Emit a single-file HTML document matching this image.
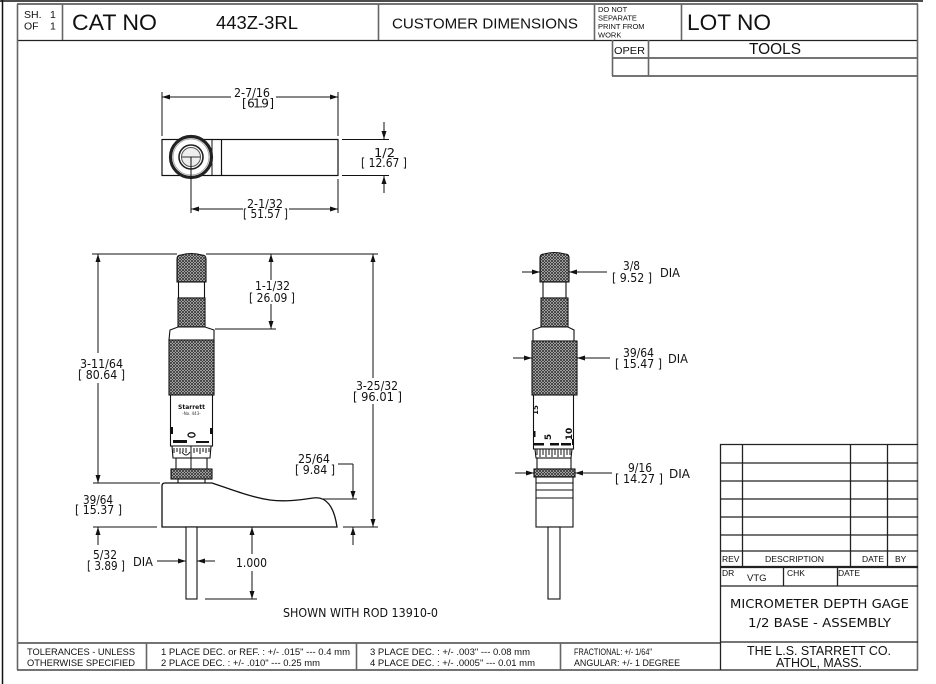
<!DOCTYPE html>
<html><head><meta charset="utf-8"><style>
html,body{margin:0;padding:0;background:#fff;}
svg{display:block;}
.h{font-family:"Liberation Sans",Arial,sans-serif;fill:#111;}
.d{font-family:"DejaVu Sans",Verdana,sans-serif;fill:#111;font-size:12px;}
</style></head><body>
<svg width="936" height="684" viewBox="0 0 936 684" xmlns="http://www.w3.org/2000/svg">
<defs>
<pattern id="k" width="3" height="3" patternUnits="userSpaceOnUse">
<rect width="3" height="3" fill="#e0e0e0"/>
<path d="M0,0 L3,3 M3,0 L0,3" stroke="#333" stroke-width="0.9"/>
</pattern>
</defs>

<!-- outer frame -->
<g fill="none" stroke="#111" stroke-width="1.5">
<line x1="0" y1="1" x2="923" y2="1"/>
<line x1="2.5" y1="0" x2="2.5" y2="684"/>
</g>

<!-- header -->
<g stroke="#222" stroke-width="1.3" fill="none">
<line x1="17" y1="4" x2="918" y2="4"/>
<line x1="17" y1="40.5" x2="918" y2="40.5"/>
<line x1="612" y1="58" x2="918" y2="58"/>
<line x1="612" y1="76" x2="918" y2="76"/>
<line x1="17" y1="643" x2="720" y2="643"/>
<line x1="17" y1="670" x2="918" y2="670"/>
</g>
<g stroke="#666" stroke-width="1.6" fill="none">
<line x1="17.5" y1="4" x2="17.5" y2="670"/>
<line x1="917.5" y1="4" x2="917.5" y2="670"/>
<line x1="62.5" y1="4" x2="62.5" y2="40"/>
<line x1="378.5" y1="4" x2="378.5" y2="40"/>
<line x1="594.5" y1="4" x2="594.5" y2="40"/>
<line x1="681.5" y1="4" x2="681.5" y2="40"/>
<line x1="612.5" y1="40" x2="612.5" y2="76"/>
<line x1="648.5" y1="40" x2="648.5" y2="76"/>
<line x1="146.5" y1="643" x2="146.5" y2="670"/>
<line x1="356.5" y1="643" x2="356.5" y2="670"/>
<line x1="560.5" y1="643" x2="560.5" y2="670"/>
</g>

<text class="h" x="24" y="18" font-size="10.5">SH.</text>
<text class="h" x="50" y="18" font-size="10.5">1</text>
<text class="h" x="24" y="29.5" font-size="10.5">OF</text>
<text class="h" x="50" y="29.5" font-size="10.5">1</text>
<text class="h" x="72" y="30" font-size="22" textLength="85" lengthAdjust="spacingAndGlyphs">CAT NO</text>
<text class="h" x="216" y="29" font-size="18.5" textLength="82" lengthAdjust="spacingAndGlyphs">443Z-3RL</text>
<text class="h" x="392" y="28.5" font-size="15" textLength="186" lengthAdjust="spacingAndGlyphs">CUSTOMER DIMENSIONS</text>
<text class="h" x="598" y="12" font-size="7.5">DO NOT</text>
<text class="h" x="598" y="20.5" font-size="7.5">SEPARATE</text>
<text class="h" x="598" y="29" font-size="7.5">PRINT FROM</text>
<text class="h" x="598" y="37.5" font-size="7.5">WORK</text>
<text class="h" x="687" y="30" font-size="22" textLength="84" lengthAdjust="spacingAndGlyphs">LOT NO</text>
<text class="h" x="614" y="54" font-size="10" textLength="31" lengthAdjust="spacingAndGlyphs">OPER</text>
<text class="h" x="749" y="54" font-size="15.5" textLength="52" lengthAdjust="spacingAndGlyphs">TOOLS</text>

<!-- tolerances -->
<g class="h" font-size="9.6">
<text x="27" y="655" textLength="108" lengthAdjust="spacingAndGlyphs">TOLERANCES - UNLESS</text>
<text x="27" y="666" textLength="108" lengthAdjust="spacingAndGlyphs">OTHERWISE SPECIFIED</text>
<text x="161" y="655" textLength="189" lengthAdjust="spacingAndGlyphs">1 PLACE DEC. or REF. :  +/- .015" --- 0.4 mm</text>
<text x="161" y="666" textLength="159" lengthAdjust="spacingAndGlyphs">2 PLACE DEC. :  +/- .010" --- 0.25 mm</text>
<text x="370" y="655" textLength="160" lengthAdjust="spacingAndGlyphs">3 PLACE DEC. :  +/- .003" --- 0.08 mm</text>
<text x="370" y="666" textLength="165" lengthAdjust="spacingAndGlyphs">4 PLACE DEC. :  +/- .0005" --- 0.01 mm</text>
<text x="574" y="655" textLength="78" lengthAdjust="spacingAndGlyphs">FRACTIONAL: +/- 1/64"</text>
<text x="574" y="666" textLength="106" lengthAdjust="spacingAndGlyphs">ANGULAR:  +/- 1 DEGREE</text>
</g>

<!-- title block -->
<g stroke="#222" stroke-width="1.3" fill="none">
<line x1="720.5" y1="444" x2="720.5" y2="670"/>
<line x1="720" y1="444.5" x2="918" y2="444.5"/>
<line x1="720" y1="463" x2="918" y2="463"/>
<line x1="720" y1="481" x2="918" y2="481"/>
<line x1="720" y1="499" x2="918" y2="499"/>
<line x1="720" y1="517" x2="918" y2="517"/>
<line x1="720" y1="535" x2="918" y2="535"/>
<line x1="720" y1="551" x2="918" y2="551"/>
<line x1="720" y1="567" x2="918" y2="567" stroke-width="2.2"/>
<line x1="720" y1="586" x2="918" y2="586"/>
<line x1="720" y1="642" x2="918" y2="642"/>
<line x1="742.5" y1="444" x2="742.5" y2="567"/>
<line x1="850.5" y1="444" x2="850.5" y2="567"/>
<line x1="887.5" y1="444" x2="887.5" y2="567"/>
<line x1="783.5" y1="567" x2="783.5" y2="586"/>
<line x1="837.5" y1="567" x2="837.5" y2="586"/>
</g>
<g class="h" font-size="8.5">
<text x="722" y="562">REV</text>
<text x="765" y="562" textLength="59" lengthAdjust="spacingAndGlyphs">DESCRIPTION</text>
<text x="862" y="562">DATE</text>
<text x="895" y="562">BY</text>
<text x="722" y="576">DR</text>
<text x="747" y="581" font-size="9.5">VTG</text>
<text x="787" y="576">CHK</text>
<text x="838" y="576">DATE</text>
</g>
<text class="d" x="730" y="608" font-size="13.5" textLength="179" lengthAdjust="spacingAndGlyphs">MICROMETER DEPTH GAGE</text>
<text class="d" x="748" y="627" font-size="13.5" textLength="143" lengthAdjust="spacingAndGlyphs">1/2 BASE - ASSEMBLY</text>
<text class="h" x="747" y="655" font-size="13" textLength="144" lengthAdjust="spacingAndGlyphs">THE L.S. STARRETT CO.</text>
<text class="h" x="776" y="667" font-size="13" textLength="86" lengthAdjust="spacingAndGlyphs">ATHOL, MASS.</text>

<!-- ===== TOP VIEW ===== -->
<g stroke="#111" stroke-width="1" fill="none">
<line x1="162" y1="92" x2="162" y2="136"/>
<line x1="338" y1="92" x2="338" y2="136"/>
<line x1="338" y1="179" x2="338" y2="213"/>
<line x1="162" y1="97" x2="231" y2="97"/>
<line x1="276" y1="97" x2="338" y2="97"/>
<line x1="191" y1="209" x2="243" y2="209"/>
<line x1="289" y1="209" x2="338" y2="209"/>
<line x1="342" y1="139.5" x2="389" y2="139.5"/>
<line x1="342" y1="175.5" x2="389" y2="175.5"/>
<line x1="384" y1="122" x2="384" y2="139"/>
<line x1="384" y1="176" x2="384" y2="193"/>
</g>
<rect x="162" y="139.5" width="176" height="36" fill="#fff" stroke="#111" stroke-width="1.2"/>
<line x1="212" y1="139.5" x2="212" y2="175.5" stroke="#111" stroke-width="1"/>
<line x1="221.5" y1="139.5" x2="221.5" y2="175.5" stroke="#111" stroke-width="1.2"/>
<circle cx="191" cy="157" r="20.5" fill="#fff" stroke="#222" stroke-width="3.2"/>
<circle cx="191" cy="157" r="18" fill="none" stroke="#999" stroke-width="0.8"/>
<circle cx="191" cy="157" r="12" fill="#fff" stroke="#222" stroke-width="1.6"/>
<circle cx="191" cy="157" r="9.5" fill="#eee" stroke="#555" stroke-width="1"/>
<line x1="182" y1="157" x2="200" y2="157" stroke="#333" stroke-width="1"/>
<line x1="191" y1="157" x2="191" y2="213" stroke="#111" stroke-width="1"/>
<g fill="#111">
<polygon points="162,97 170,94.5 170,99.5"/>
<polygon points="338,97 330,94.5 330,99.5"/>
<polygon points="191,209 199,206.5 199,211.5"/>
<polygon points="338,209 330,206.5 330,211.5"/>
<polygon points="384,139 381.5,131 386.5,131"/>
<polygon points="384,176 381.5,184 386.5,184"/>
</g>
<text class="d" x="234" y="97" textLength="36" lengthAdjust="spacingAndGlyphs">2-7/16</text>
<text class="d" x="242" y="107.5" font-size="11" textLength="32" lengthAdjust="spacing">[ 61.9 ]</text>
<text class="d" x="247" y="208" textLength="36" lengthAdjust="spacingAndGlyphs">2-1/32</text>
<text class="d" x="243" y="218" textLength="45" lengthAdjust="spacingAndGlyphs">[ 51.57 ]</text>
<text class="d" x="374" y="157" textLength="21" lengthAdjust="spacingAndGlyphs">1/2</text>
<text class="d" x="361" y="167" textLength="46" lengthAdjust="spacingAndGlyphs">[ 12.67 ]</text>

<!-- ===== LEFT FRONT VIEW ===== -->
<g stroke="#111" stroke-width="1" fill="none">
<line x1="92" y1="254" x2="177" y2="254"/>
<line x1="206" y1="254" x2="378" y2="254"/>
<line x1="98" y1="254" x2="98" y2="353"/>
<line x1="98" y1="383" x2="98" y2="483"/>
<line x1="271" y1="254" x2="271" y2="280"/>
<line x1="271" y1="304" x2="271" y2="329"/>
<line x1="215" y1="329" x2="276" y2="329"/>
<line x1="373" y1="254" x2="373" y2="378"/>
<line x1="373" y1="404" x2="373" y2="527"/>
<line x1="93" y1="483" x2="160" y2="483"/>
<line x1="93" y1="527" x2="157" y2="527"/>
<line x1="98" y1="527" x2="98" y2="545"/>
<line x1="157" y1="561" x2="186" y2="561"/>
<line x1="197" y1="561" x2="215" y2="561"/>
<line x1="252" y1="527" x2="252" y2="554"/>
<line x1="252" y1="571" x2="252" y2="599"/>
<line x1="205" y1="599" x2="257" y2="599"/>
<line x1="338" y1="464" x2="353" y2="464"/>
<line x1="353" y1="464" x2="353" y2="499"/>
<line x1="322" y1="499" x2="357" y2="499"/>
<line x1="343" y1="527" x2="378" y2="527"/>
<line x1="353" y1="527" x2="353" y2="545"/>
</g>
<g fill="#111">
<polygon points="98,254 95.5,262 100.5,262"/>
<polygon points="98,483 95.5,475 100.5,475"/>
<polygon points="98,527 95.5,535 100.5,535"/>
<polygon points="271,254 268.5,262 273.5,262"/>
<polygon points="271,329 268.5,321 273.5,321"/>
<polygon points="373,254 370.5,262 375.5,262"/>
<polygon points="373,527 370.5,519 375.5,519"/>
<polygon points="186,561 178,558.5 178,563.5"/>
<polygon points="197,561 205,558.5 205,563.5"/>
<polygon points="252,527 249.5,535 254.5,535"/>
<polygon points="252,599 249.5,591 254.5,591"/>
<polygon points="353,499 350.5,491 355.5,491"/>
<polygon points="353,527 350.5,535 355.5,535"/>
</g>

<!-- micrometer left -->
<g stroke="#111" stroke-width="1.1">
<path d="M177,282 L177,259 Q177,255 181,255 Q191,252 202,255 Q206,255 206,259 L206,282 Z" fill="url(#k)"/>
<rect x="178.5" y="282" width="26" height="16" fill="#fff"/>
<rect x="178" y="298" width="27" height="29" fill="url(#k)"/>
<path d="M178,327 L205,327 L214,330 L214,340 L169,340 L170,330 Z" fill="#fff"/>
<rect x="169" y="340" width="45" height="55" fill="url(#k)"/>
<rect x="170.5" y="395" width="42" height="51" fill="#fff"/>
<path d="M172,446 L211,446 L210,458 L173,458 Z" fill="#fff"/>
<rect x="176" y="458" width="31" height="11" fill="#fff"/>
<rect x="171" y="469" width="41" height="10" fill="url(#k)"/>
<line x1="178" y1="479" x2="178" y2="483"/>
<line x1="205" y1="479" x2="205" y2="483"/>
<path d="M162,527 L162,486 Q162,483 165,483 L212,483 C230,489 250,497 270,500 C285,502 300,500 313,498 C326,496 334,506 337,527 Z" fill="#fff" stroke-width="1.3"/>
<rect x="186" y="527" width="11" height="72" fill="#fff"/>
</g>
<g stroke="#111" stroke-width="1" fill="none">
<line x1="191" y1="446" x2="191" y2="469"/>
<path d="M174,448 v5 M177,448 v4 M180,448 v6 M183,448 v4 M186,448 v5 M194,448 v5 M197,448 v4 M200,448 v6 M203,448 v4 M206,448 v5 M209,448 v4"/>
<path d="M182,452 Q186,458 190,452" />
<ellipse cx="191.5" cy="435" rx="3.5" ry="2.2" stroke-width="1.3"/>
</g>
<g fill="#111">
<rect x="171" y="427" width="2" height="7"/>
<rect x="210" y="428" width="2" height="6"/>
<rect x="173" y="440" width="14" height="3"/>
<rect x="196" y="441" width="13" height="2"/>
</g>
<text x="191.5" y="409" font-family="DejaVu Sans,sans-serif" font-size="6" font-weight="bold" text-anchor="middle" fill="#111">Starrett</text>
<text x="191.5" y="415" font-family="DejaVu Sans,sans-serif" font-size="4" text-anchor="middle" fill="#333">-No. 443-</text>

<text class="d" x="255" y="290" textLength="35" lengthAdjust="spacingAndGlyphs">1-1/32</text>
<text class="d" x="249" y="302" textLength="46" lengthAdjust="spacingAndGlyphs">[ 26.09 ]</text>
<text class="d" x="80" y="368" textLength="43" lengthAdjust="spacingAndGlyphs">3-11/64</text>
<text class="d" x="78" y="379" textLength="47" lengthAdjust="spacingAndGlyphs">[ 80.64 ]</text>
<text class="d" x="356" y="390" textLength="42" lengthAdjust="spacingAndGlyphs">3-25/32</text>
<text class="d" x="353" y="401" textLength="49" lengthAdjust="spacingAndGlyphs">[ 96.01 ]</text>
<text class="d" x="298" y="463" textLength="32" lengthAdjust="spacingAndGlyphs">25/64</text>
<text class="d" x="295" y="474" textLength="40" lengthAdjust="spacingAndGlyphs">[ 9.84 ]</text>
<text class="d" x="83" y="504" textLength="30" lengthAdjust="spacingAndGlyphs">39/64</text>
<text class="d" x="75" y="514" textLength="47" lengthAdjust="spacingAndGlyphs">[ 15.37 ]</text>
<text class="d" x="93" y="559" textLength="24" lengthAdjust="spacingAndGlyphs">5/32</text>
<text class="d" x="87" y="570" textLength="38" lengthAdjust="spacingAndGlyphs">[ 3.89 ]</text>
<text class="d" x="133" y="566" font-size="12.5" textLength="20" lengthAdjust="spacingAndGlyphs">DIA</text>
<text class="d" x="236" y="567" textLength="31" lengthAdjust="spacingAndGlyphs">1.000</text>
<text class="d" x="283" y="617" textLength="155" lengthAdjust="spacingAndGlyphs">SHOWN WITH ROD 13910-0</text>

<!-- ===== RIGHT SIDE VIEW ===== -->
<g stroke="#111" stroke-width="1" fill="none">
<line x1="522" y1="272" x2="540" y2="272"/>
<line x1="569" y1="272" x2="607" y2="272"/>
<line x1="513" y1="358" x2="532" y2="358"/>
<line x1="577" y1="358" x2="610" y2="358"/>
<line x1="515" y1="473" x2="534" y2="473"/>
<line x1="575" y1="473" x2="612" y2="473"/>
</g>
<g fill="#111">
<polygon points="540,272 532,269.5 532,274.5"/>
<polygon points="569,272 577,269.5 577,274.5"/>
<polygon points="532,358 524,355.5 524,360.5"/>
<polygon points="577,358 585,355.5 585,360.5"/>
<polygon points="534,473 526,470.5 526,475.5"/>
<polygon points="575,473 583,470.5 583,475.5"/>
</g>
<g stroke="#111" stroke-width="1.1">
<path d="M540,282 L540,258 Q540,254 544,254 Q554.5,251 565,254 Q569,254 569,258 L569,282 Z" fill="url(#k)"/>
<rect x="543" y="282" width="23" height="16" fill="#fff"/>
<rect x="541" y="298" width="27" height="29" fill="url(#k)"/>
<path d="M541,327 L568,327 L574,330 L574,341 L533,341 L533,330 Z" fill="#fff"/>
<rect x="532" y="341" width="45" height="54" fill="url(#k)"/>
<rect x="533.5" y="395" width="40" height="54" fill="#fff"/>
<path d="M535,449 L572,449 L571,458 L536,458 Z" fill="#fff"/>
<rect x="537" y="458" width="34" height="11" fill="#fff"/>
<rect x="534" y="469" width="41" height="8" fill="url(#k)"/>
<rect x="536" y="477" width="37" height="50" fill="#fff"/>
<line x1="536" y1="483" x2="573" y2="483"/>
<line x1="536" y1="490" x2="573" y2="490"/>
<line x1="536" y1="498" x2="573" y2="498"/>
<rect x="548" y="527" width="12" height="72" fill="#fff"/>
</g>
<g stroke="#111" stroke-width="1" fill="none">
<path d="M537,449 v6 M540,449 v8 M543,449 v6 M546,449 v8 M549,449 v6 M552,449 v8 M555,449 v6 M558,449 v8 M561,449 v6 M564,449 v8 M567,449 v6 M570,449 v6"/>
</g>
<g fill="#111">
<rect x="534" y="443" width="10" height="2.5"/>
<rect x="550" y="443" width="9" height="2.5"/>
<rect x="561" y="443" width="10" height="2.5"/>
<rect x="572" y="439" width="2" height="6"/>
<rect x="534" y="431" width="1.5" height="6"/>
</g>
<text transform="translate(538,410) rotate(-90)" font-family="DejaVu Sans,sans-serif" font-size="7" font-weight="bold" fill="#111" text-anchor="middle">15</text>
<text transform="translate(551,437) rotate(-90)" font-family="DejaVu Sans,sans-serif" font-size="9" font-weight="bold" fill="#111" text-anchor="middle">5</text>
<text transform="translate(572,434) rotate(-90)" font-family="DejaVu Sans,sans-serif" font-size="9" font-weight="bold" fill="#111" text-anchor="middle">10</text>

<text class="d" x="623" y="270" textLength="17" lengthAdjust="spacingAndGlyphs">3/8</text>
<text class="d" x="612" y="282" textLength="40" lengthAdjust="spacingAndGlyphs">[ 9.52 ]</text>
<text class="d" x="660" y="277" textLength="20" lengthAdjust="spacingAndGlyphs">DIA</text>
<text class="d" x="623" y="357" textLength="31" lengthAdjust="spacingAndGlyphs">39/64</text>
<text class="d" x="615" y="368" textLength="47" lengthAdjust="spacingAndGlyphs">[ 15.47 ]</text>
<text class="d" x="668" y="363" textLength="20" lengthAdjust="spacingAndGlyphs">DIA</text>
<text class="d" x="628" y="472" textLength="24" lengthAdjust="spacingAndGlyphs">9/16</text>
<text class="d" x="615" y="483" textLength="48" lengthAdjust="spacingAndGlyphs">[ 14.27 ]</text>
<text class="d" x="669" y="478" textLength="21" lengthAdjust="spacingAndGlyphs">DIA</text>
</svg>
</body></html>
